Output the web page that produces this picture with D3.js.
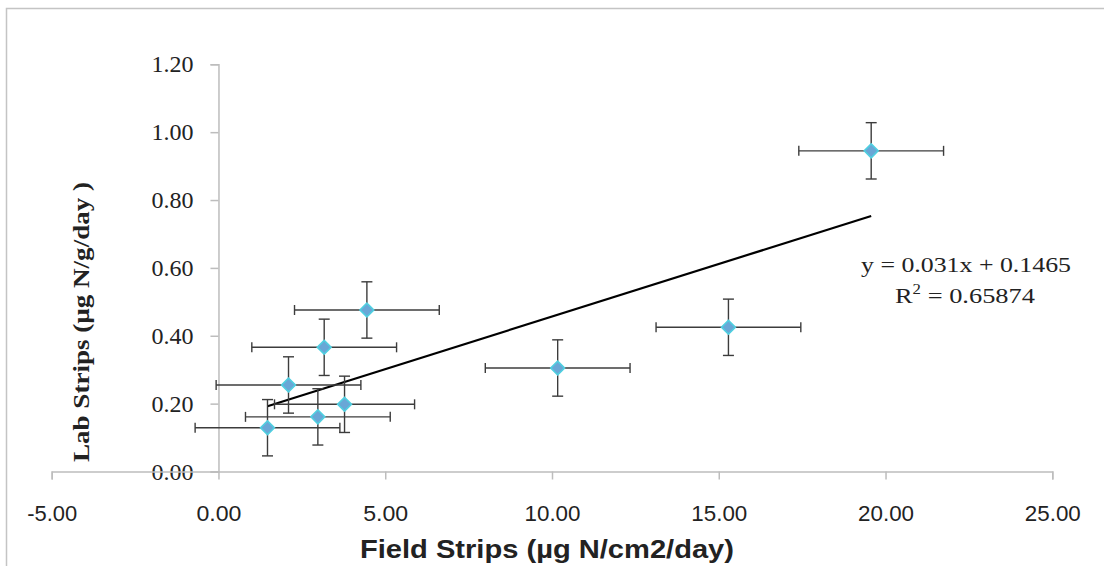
<!DOCTYPE html>
<html>
<head>
<meta charset="utf-8">
<script src="https://cdn.jsdelivr.net/npm/d3@7"></script>
<style>
  html, body { margin: 0; padding: 0; background: #fff; }
  svg { display: block; }
</style>
</head>
<body>
<svg id="chart" width="1104" height="566"></svg>
<script>
// ---- data ----
const fieldStrips = [1.47, 2.10, 2.98, 3.17, 3.78, 4.45, 10.17, 15.29, 19.57];
const labStrips   = [0.129, 0.255, 0.161, 0.366, 0.198, 0.476, 0.305, 0.425, 0.945];
const fieldErr    = [2.17, 2.17, 2.17, 2.17, 2.10, 2.17, 2.17, 2.17, 2.17];
const labErr      = [0.083, 0.083, 0.083, 0.083, 0.083, 0.083, 0.083, 0.083, 0.083];
const xTicks = [-5, 0, 5, 10, 15, 20, 25];
const yTicks = [0, 0.2, 0.4, 0.6, 0.8, 1.0, 1.2];
const trendSlope = 0.031;
const trendIntercept = 0.1465;
const eqLine1 = "y = 0.031x + 0.1465";
const eqR2 = "0.65874";
const xTitle = "Field Strips (µg N/cm2/day)";
const yTitle = "Lab Strips (µg N/g/day )";

const fmt = d => d.toFixed(2);

const svg = d3.select("#chart");
const x = d3.scaleLinear().domain([-5, 25]).range([51.7, 1052.3]);
const y = d3.scaleLinear().domain([0, 1.2]).range([471.5, 64.3]);

// outer chart border
svg.append("rect")
  .attr("x", 6.5).attr("y", 8.5).attr("width", 1200).attr("height", 700)
  .attr("fill", "none").attr("stroke", "#c4c4c4").attr("stroke-width", 1.5);

const axisColor = "#bdbdbd";

// y axis (at x = 0)
const yAxis = svg.append("g").attr("transform", `translate(${x(0)},0)`)
  .call(d3.axisLeft(y).tickValues(yTicks).tickSize(8).tickPadding(17).tickFormat(fmt));
yAxis.select(".domain").attr("stroke", axisColor).attr("stroke-width", 1.5);
yAxis.selectAll(".tick line").attr("stroke", axisColor).attr("stroke-width", 1.5);
yAxis.selectAll("text")
  .attr("font-family", "'Liberation Serif', 'DejaVu Serif', serif")
  .attr("font-size", 24).attr("fill", "#222");

// x axis (at y = 0)
const xAxis = svg.append("g").attr("transform", `translate(0,${y(0)})`)
  .call(d3.axisBottom(x).tickValues(xTicks).tickSize(8).tickPadding(26).tickFormat(fmt));
xAxis.select(".domain").attr("stroke", axisColor).attr("stroke-width", 1.5);
xAxis.selectAll(".tick line").attr("stroke", axisColor).attr("stroke-width", 1.5);
xAxis.selectAll("text")
  .attr("font-family", "'Liberation Sans', 'Open Sans', sans-serif")
  .attr("font-size", 22).attr("fill", "#222")
  .attr("textLength", 56).attr("lengthAdjust", "spacingAndGlyphs");
xAxis.selectAll(".tick").filter(d => d < 0).select("text").attr("textLength", 50);
xAxis.selectAll(".tick").filter(d => d >= 0 && d < 10).select("text").attr("textLength", 45);

// axis titles
svg.append("text")
  .attr("x", 547).attr("y", 558)
  .attr("text-anchor", "middle")
  .attr("font-family", "'Liberation Sans', 'Open Sans', sans-serif")
  .attr("font-weight", "bold").attr("font-size", 26).attr("fill", "#222")
  .attr("textLength", 374).attr("lengthAdjust", "spacingAndGlyphs")
  .text(xTitle);

svg.append("text")
  .attr("transform", "translate(89,322) rotate(-90)")
  .attr("text-anchor", "middle")
  .attr("font-family", "'Liberation Serif', 'DejaVu Serif', serif")
  .attr("font-weight", "bold").attr("font-size", 23).attr("fill", "#222")
  .attr("textLength", 280).attr("lengthAdjust", "spacingAndGlyphs")
  .text(yTitle);

// trendline
const xMin = d3.min(fieldStrips), xMax = d3.max(fieldStrips);
svg.append("line")
  .attr("x1", x(xMin)).attr("y1", y(trendSlope * xMin + trendIntercept))
  .attr("x2", x(xMax)).attr("y2", y(trendSlope * xMax + trendIntercept))
  .attr("stroke", "#000").attr("stroke-width", 2.2);

// error bars
const pts = fieldStrips.map((fx, i) => ({ fx, ly: labStrips[i], ex: fieldErr[i], ey: labErr[i] }));
const errColor = "#3c3c3c";
const eb = svg.append("g").attr("stroke", errColor).attr("stroke-width", 1.4).attr("fill", "none");
pts.forEach(p => {
  const cx = x(p.fx), cy = y(p.ly);
  const x1 = x(p.fx - p.ex), x2 = x(p.fx + p.ex);
  const y1 = y(p.ly + p.ey), y2 = y(p.ly - p.ey);
  // horizontal
  eb.append("line").attr("x1", x1).attr("x2", x2).attr("y1", cy).attr("y2", cy);
  eb.append("line").attr("x1", x1).attr("x2", x1).attr("y1", cy - 5).attr("y2", cy + 5);
  eb.append("line").attr("x1", x2).attr("x2", x2).attr("y1", cy - 5).attr("y2", cy + 5);
  // vertical
  eb.append("line").attr("x1", cx).attr("x2", cx).attr("y1", y1).attr("y2", y2);
  eb.append("line").attr("x1", cx - 5.5).attr("x2", cx + 5.5).attr("y1", y1).attr("y2", y1);
  eb.append("line").attr("x1", cx - 5.5).attr("x2", cx + 5.5).attr("y1", y2).attr("y2", y2);
});

// markers (diamonds)
svg.append("g").selectAll("path").data(pts).join("path")
  .attr("d", d3.symbol().type(d3.symbolSquare).size(96))
  .attr("transform", d => `translate(${x(d.fx)},${y(d.ly)}) rotate(45)`)
  .attr("fill", "#69a7d6").attr("stroke", "#4fcfe0").attr("stroke-width", 1.6);

// equation label
const eq = svg.append("g")
  .attr("font-family", "'Liberation Serif', 'DejaVu Serif', serif")
  .attr("font-size", 22).attr("fill", "#222").attr("text-anchor", "middle");
eq.append("text").attr("x", 966).attr("y", 272)
  .attr("textLength", 210).attr("lengthAdjust", "spacingAndGlyphs")
  .text(eqLine1);
const t2 = eq.append("text").attr("x", 965).attr("y", 303)
  .attr("textLength", 140).attr("lengthAdjust", "spacingAndGlyphs");
t2.append("tspan").text("R");
t2.append("tspan").attr("font-size", 14).attr("dy", -9).text("2");
t2.append("tspan").attr("dy", 9).text(" = " + eqR2);
</script>
</body>
</html>
